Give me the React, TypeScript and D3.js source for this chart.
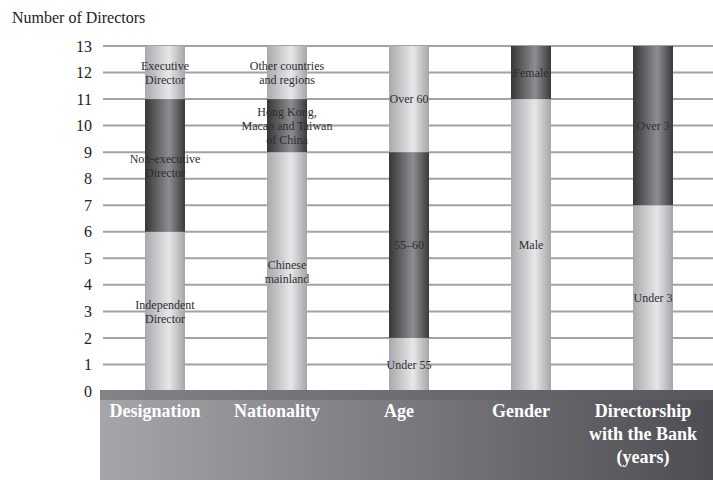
import React from 'react';
import * as d3 from 'd3';

// chart values
const categoryLines = [
  ['Designation'],
  ['Nationality'],
  ['Age'],
  ['Gender'],
  ['Directorship', 'with the Bank', '(years)'],
];
const designationValues = [6, 5, 2];
const designationLabels = [['Independent', 'Director'], ['Non-executive', 'Director'], ['Executive', 'Director']];
const nationalityValues = [9, 2, 2];
const nationalityLabels = [['Chinese', 'mainland'], ['Hong Kong,', 'Macao and Taiwan', 'of China'], ['Other countries', 'and regions']];
const ageValues = [2, 7, 4];
const ageLabels = [['Under 55'], ['55–60'], ['Over 60']];
const genderValues = [11, 2];
const genderLabels = [['Male'], ['Female']];
const tenureValues = [7, 6];
const tenureLabels = [['Under 3'], ['Over 3']];
const yTicks = d3.range(0, 14);

const WIDTH = 713;
const HEIGHT = 480;
const FONT = '"Liberation Serif", "Times New Roman", serif';

const stacks = [
  { values: designationValues, labels: designationLabels },
  { values: nationalityValues, labels: nationalityLabels },
  { values: ageValues, labels: ageLabels },
  { values: genderValues, labels: genderLabels },
  { values: tenureValues, labels: tenureLabels },
];

const App = () => {
  const y = d3.scaleLinear().domain([0, 13]).range([391, 46]);
  const x = d3
    .scalePoint<number>()
    .domain(d3.range(stacks.length))
    .range([165, 653]);
  const barWidth = 40;
  const bandTop = 390;
  const lineHeight = 14;

  return (
    <svg width={WIDTH} height={HEIGHT} style={{ position: 'absolute', left: 0, top: 0 }}>
      <defs>
        <linearGradient id="light" x1="0" x2="1" y1="0" y2="0">
          <stop offset="0" stopColor="#a9a9ad" />
          <stop offset="0.6" stopColor="#e7e7e9" />
          <stop offset="1" stopColor="#a6a6aa" />
        </linearGradient>
        <linearGradient id="dark" x1="0" x2="1" y1="0" y2="0">
          <stop offset="0" stopColor="#363638" />
          <stop offset="0.6" stopColor="#8e8e92" />
          <stop offset="1" stopColor="#3a3a3c" />
        </linearGradient>
        <linearGradient id="band" x1="0" x2="1" y1="0" y2="0">
          <stop offset="0" stopColor="#a6a6aa" />
          <stop offset="1" stopColor="#4e4e52" />
        </linearGradient>
        <linearGradient id="strip" x1="0" x2="1" y1="0" y2="0">
          <stop offset="0" stopColor="#838387" />
          <stop offset="1" stopColor="#58585c" />
        </linearGradient>
      </defs>
      <rect width={WIDTH} height={HEIGHT} fill="#fff" />

      <text x={12} y={23} fontFamily={FONT} fontSize={16} fill="#222">
        Number of Directors
      </text>

      {/* grid + y ticks */}
      {yTicks.map((t) => (
        <g key={t}>
          {t > 0 && (
            <line x1={103} x2={WIDTH} y1={y(t)} y2={y(t)} stroke="#a2a2a2" strokeWidth={2} />
          )}
          <text
            x={92}
            y={y(t)}
            dy="0.35em"
            textAnchor="end"
            fontFamily={FONT}
            fontSize={16}
            fill="#222"
          >
            {t}
          </text>
        </g>
      ))}

      {/* stacked cylinders */}
      {stacks.map((s, i) => {
        const cx = x(i) as number;
        const ends = d3.cumsum(s.values);
        return (
          <g key={i}>
            {s.values.map((v, j) => {
              const y0 = j === 0 ? 0 : ends[j - 1];
              const y1 = ends[j];
              const bottom = j === 0 ? bandTop : y(y0);
              return (
                <rect
                  key={j}
                  x={cx - barWidth / 2}
                  width={barWidth}
                  y={y(y1)}
                  height={bottom - y(y1)}
                  fill={j % 2 === 0 ? 'url(#light)' : 'url(#dark)'}
                />
              );
            })}
            {s.values.map((v, j) => {
              const y0 = j === 0 ? 0 : ends[j - 1];
              const mid = y((y0 + ends[j]) / 2);
              const lines = s.labels[j];
              const top = mid - ((lines.length - 1) * lineHeight) / 2;
              return (
                <text
                  key={'l' + j}
                  textAnchor="middle"
                  fontFamily={FONT}
                  fontSize={12}
                  fill="#2e2e2e"
                >
                  {lines.map((ln, k) => (
                    <tspan key={k} x={cx} y={top + k * lineHeight} dy="0.35em">
                      {ln}
                    </tspan>
                  ))}
                </text>
              );
            })}
          </g>
        );
      })}

      {/* bottom category band */}
      <rect x={100} y={bandTop} width={WIDTH - 100} height={HEIGHT - bandTop} fill="url(#band)" />
      <rect x={100} y={bandTop} width={WIDTH - 100} height={10} fill="url(#strip)" />
      {categoryLines.map((lines, i) => (
        <text
          key={i}
          textAnchor="middle"
          fontFamily={FONT}
          fontSize={18}
          fontWeight="bold"
          fill="#fff"
        >
          {lines.map((ln, k) => (
            <tspan key={k} x={(x(i) as number) - 10} y={417 + k * 23}>
              {ln}
            </tspan>
          ))}
        </text>
      ))}
    </svg>
  );
};

export default App;
